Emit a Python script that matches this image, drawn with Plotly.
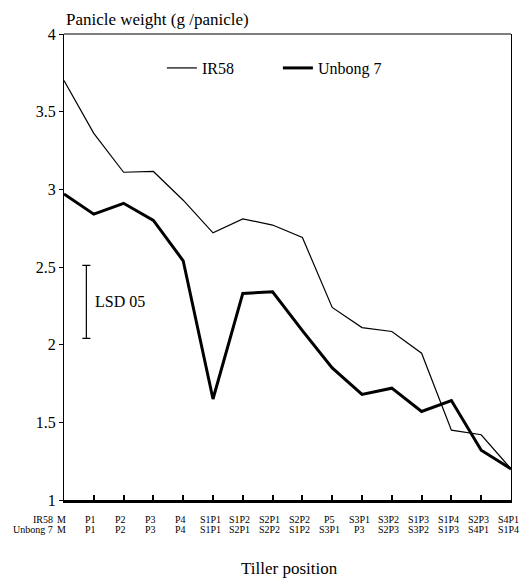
import plotly.graph_objects as go

ir58_labels = ["M", "P1", "P2", "P3", "P4", "S1P1", "S1P2", "S2P1", "S2P2", "P5",
               "S3P1", "S3P2", "S1P3", "S1P4", "S2P3", "S4P1"]
unbong_labels = ["M", "P1", "P2", "P3", "P4", "S1P1", "S2P1", "S2P2", "S1P2", "S3P1",
                 "P3", "S2P3", "S3P2", "S1P3", "S4P1", "S1P4"]
ir58_values = [3.70, 3.36, 3.11, 3.115, 2.93, 2.72, 2.81, 2.77, 2.69, 2.24,
               2.11, 2.085, 1.945, 1.45, 1.42, 1.20]
unbong_values = [2.97, 2.84, 2.91, 2.80, 2.54, 1.65, 2.33, 2.34, 2.09, 1.85,
                 1.68, 1.72, 1.57, 1.64, 1.32, 1.20]
lsd_low, lsd_high = 2.04, 2.51
yticks = [1, 1.5, 2, 2.5, 3, 3.5, 4]
ytick_text = ["1", "1.5", "2", "2.5", "3", "3.5", "4"]

FONT = "Liberation Serif"
pos = list(range(len(ir58_labels)))

fig = go.Figure()
fig.add_trace(go.Scatter(x=pos, y=ir58_values, mode="lines", name="IR58",
                         line=dict(color="black", width=1.2)))
fig.add_trace(go.Scatter(x=pos, y=unbong_values, mode="lines", name="Unbong 7",
                         line=dict(color="black", width=3)))
# LSD bar
fig.add_trace(go.Scatter(x=[0.75], y=[(lsd_low + lsd_high) / 2], mode="markers",
                         marker=dict(size=0.1, color="black"), showlegend=False,
                         error_y=dict(type="data", array=[(lsd_high - lsd_low) / 2],
                                      color="black", thickness=1.2, width=4)))

annotations = []
annotations.append(dict(x=0.98, y=(lsd_low + lsd_high) / 2, xref="x", yref="y",
                        text="LSD 05", showarrow=False, xanchor="left",
                        font=dict(family=FONT, size=16, color="black")))
for i, (a, b) in enumerate(zip(ir58_labels, unbong_labels)):
    annotations.append(dict(x=i, y=0, xref="x", yref="paper", text=a, showarrow=False,
                            yshift=-27, xshift=-3, font=dict(family=FONT, size=10, color="black")))
    annotations.append(dict(x=i, y=0, xref="x", yref="paper", text=b, showarrow=False,
                            yshift=-37, xshift=-3, font=dict(family=FONT, size=10, color="black")))
annotations.append(dict(x=0, y=0, xref="x", yref="paper", text="IR58", showarrow=False,
                        xanchor="right", yshift=-27, xshift=-9,
                        font=dict(family=FONT, size=10, color="black")))
annotations.append(dict(x=0, y=0, xref="x", yref="paper", text="Unbong 7", showarrow=False,
                        xanchor="right", yshift=-37, xshift=-9,
                        font=dict(family=FONT, size=10, color="black")))
annotations.append(dict(x=0, y=1, xref="paper", yref="paper", text="Panicle weight (g /panicle)",
                        showarrow=False, xanchor="left", yanchor="bottom", yshift=3,
                        font=dict(family=FONT, size=17, color="black")))
annotations.append(dict(x=0.5, y=0, xref="paper", yref="paper", text="Tiller position",
                        showarrow=False, yanchor="middle", yshift=-68, xshift=2,
                        font=dict(family=FONT, size=17, color="black")))

fig.update_layout(
    width=521, height=583,
    margin=dict(l=64, r=10, t=34, b=83),
    paper_bgcolor="white", plot_bgcolor="white",
    font=dict(family=FONT, color="black"),
    showlegend=True,
    legend=dict(orientation="h", x=0.219, y=0.927, xanchor="left", yanchor="middle",
                font=dict(family=FONT, size=16, color="black"),
                entrywidth=71, entrywidthmode="pixels", bgcolor="rgba(0,0,0,0)"),
    annotations=annotations,
    shapes=[dict(type="line", xref="paper", yref="paper", x0=0, x1=1, y0=1, y1=1,
                 line=dict(color="black", width=1.2))],
)
fig.update_xaxes(range=[0, 15], showgrid=False, zeroline=False, showline=True,
                 linecolor="black", linewidth=2.5, ticks="inside", ticklen=5,
                 tickwidth=2, tickcolor="black", tickvals=pos, showticklabels=False)
fig.update_yaxes(range=[1, 4], showgrid=False, zeroline=False, showline=True,
                 linecolor="black", linewidth=1.2, mirror=True, ticks="outside",
                 ticklen=4, tickwidth=1.2, tickcolor="black", tickvals=yticks,
                 ticktext=ytick_text, tickfont=dict(family=FONT, size=16, color="black"))

fig.write_html("out.html")
